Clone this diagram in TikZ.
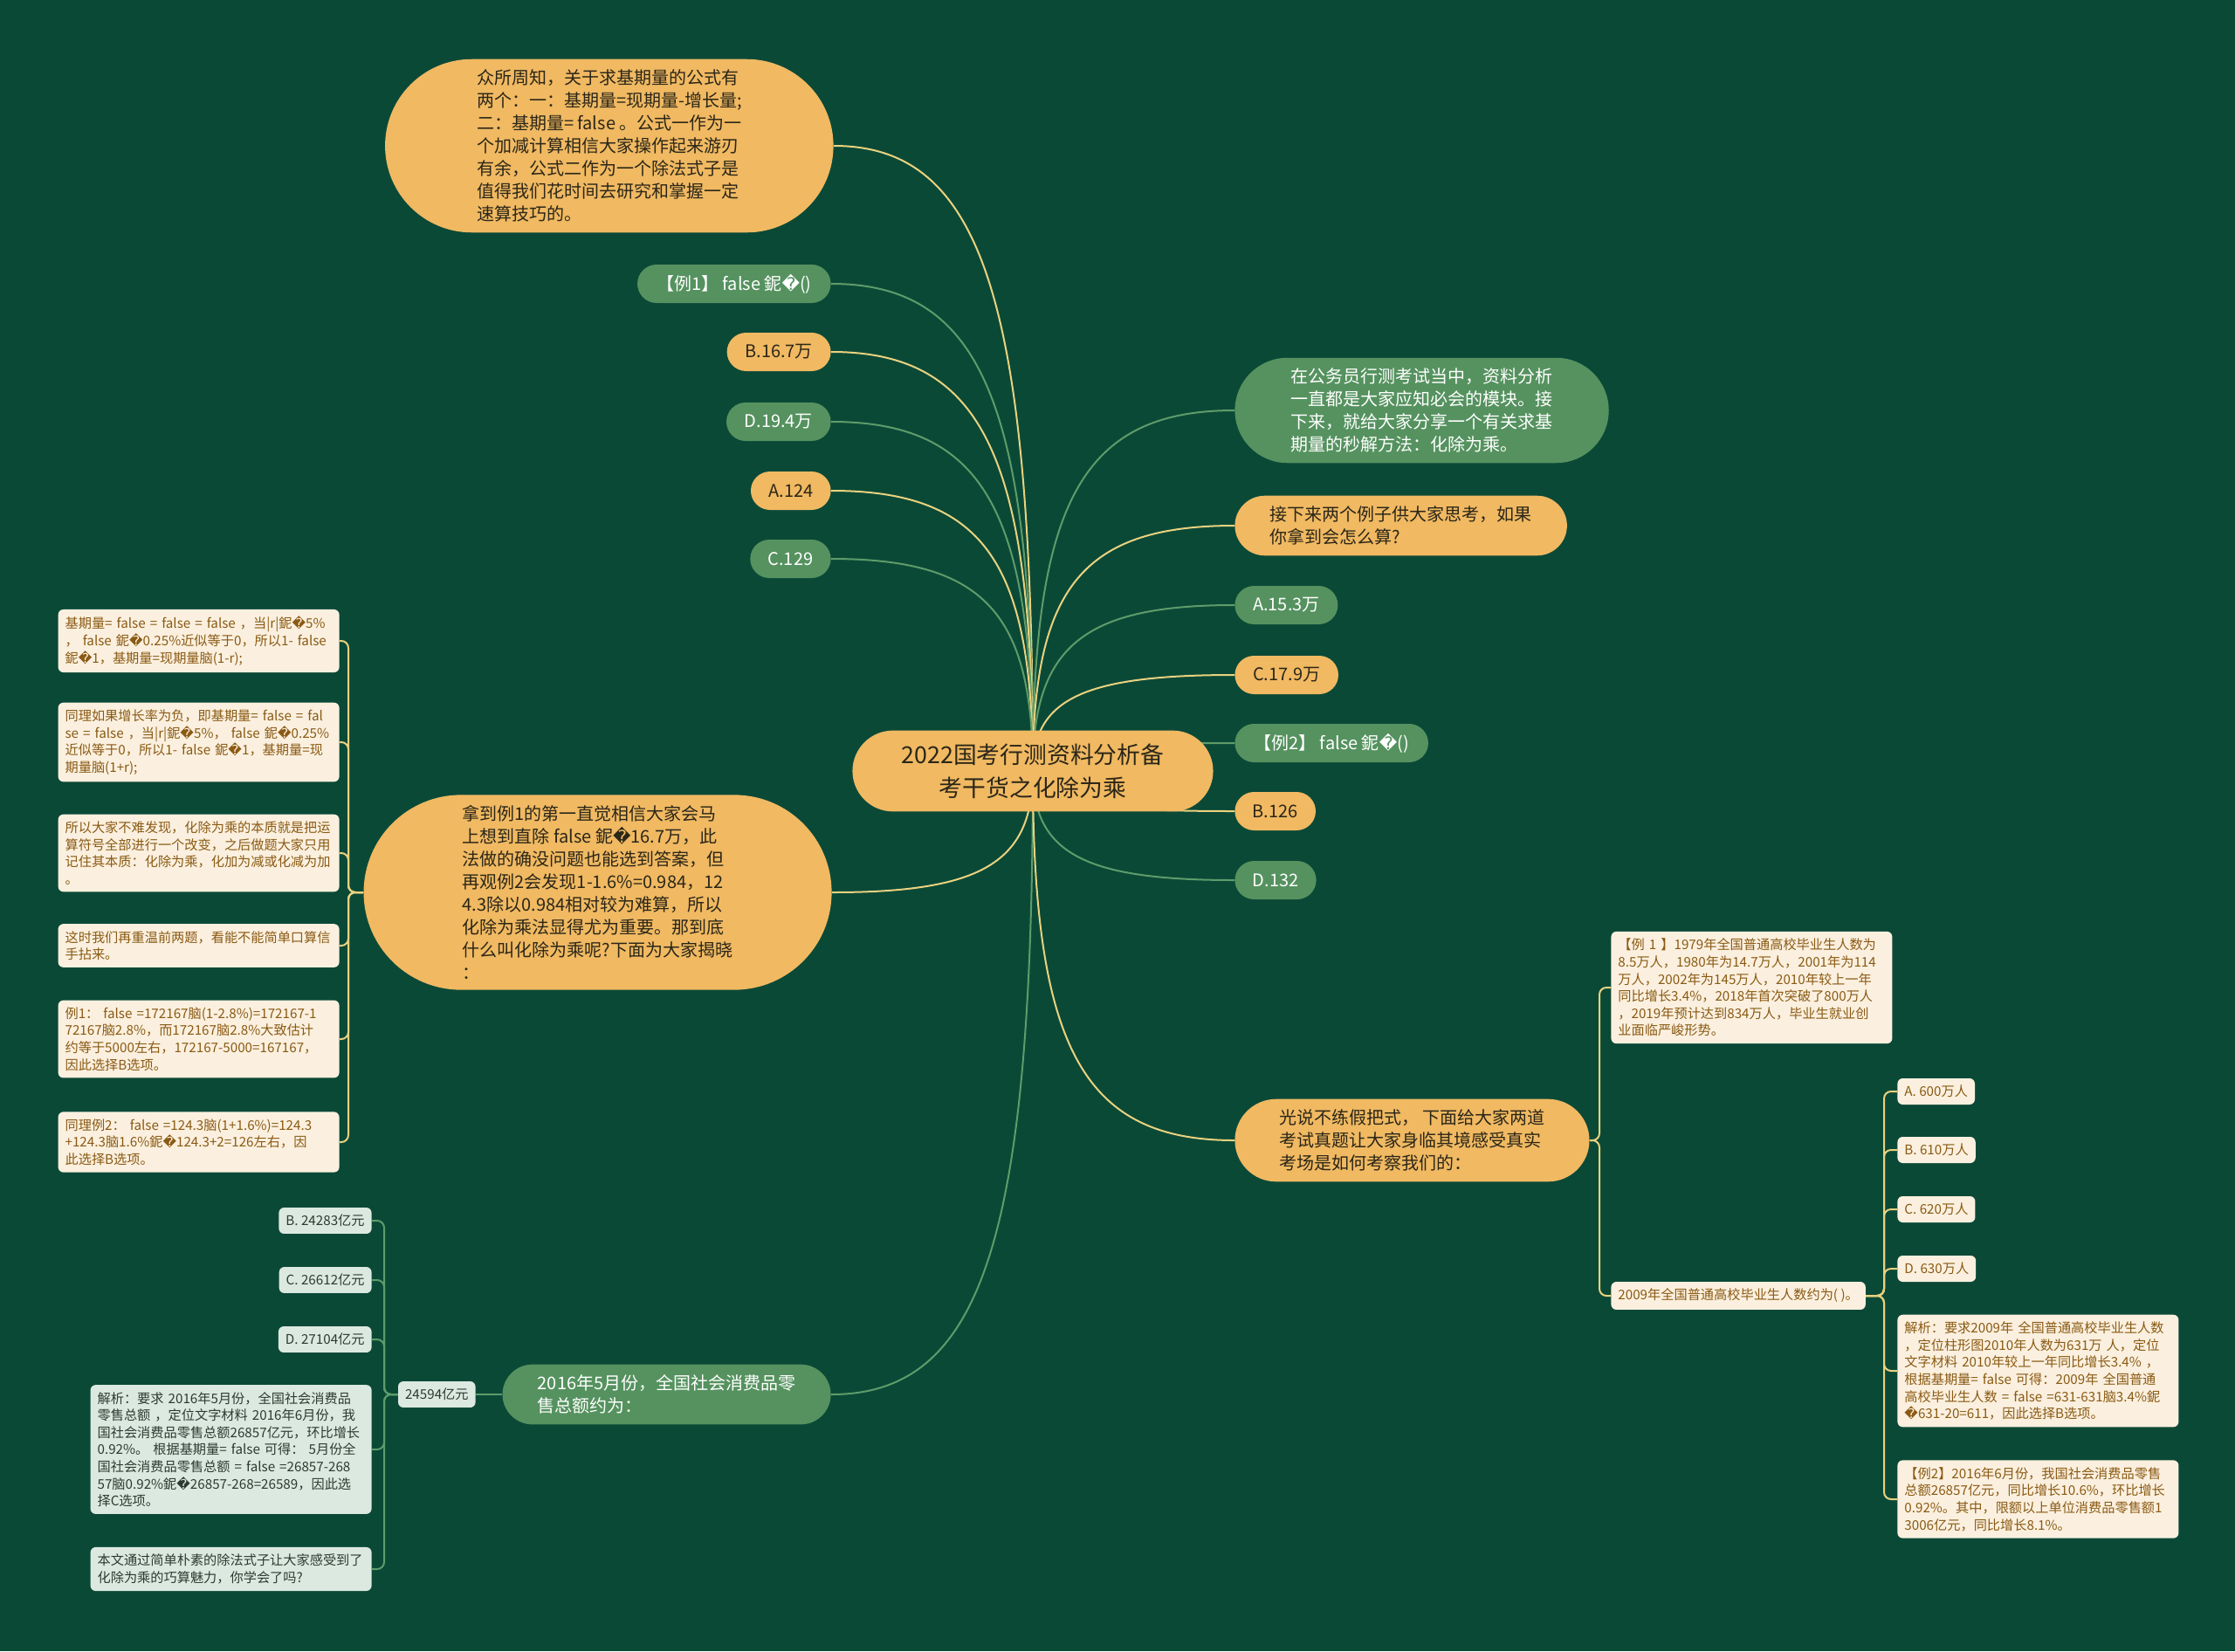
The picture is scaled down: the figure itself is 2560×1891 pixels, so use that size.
\documentclass[tikz,border=0pt]{standalone}
\usepackage{fontspec}
\setmainfont{Noto Sans CJK SC}
\newfontfamily\dejavu{DejaVu Sans}
\usetikzlibrary{shapes.misc,calc}
\definecolor{green900}{HTML}{0B4937}
\definecolor{green500}{HTML}{55925F}
\definecolor{green400}{HTML}{5E9C6B}
\definecolor{gold300}{HTML}{F0B962}
\definecolor{gold200}{HTML}{E9D27F}
\definecolor{cream100}{HTML}{FBF0DF}
\definecolor{brown700}{HTML}{8A5A14}
\definecolor{mint100}{HTML}{DCE9E0}
\definecolor{ink900}{HTML}{2B2618}
\definecolor{ink700}{HTML}{2C3B31}
\newcommand{\rpl}{{\dejavu\char"FFFD}}
\pgfdeclarelayer{bg}
\pgfsetlayers{bg,main}
\tikzset{
  root/.style ={rounded rectangle, fill=gold300, text=ink900, inner xsep=22pt,
                inner ysep=7.5pt, align=center, font=\fontsize{13.4}{19}\selectfont},
  bub/.style  ={rounded rectangle, fill=gold300, text=ink900, inner xsep=16pt,
                inner ysep=6pt, align=left, font=\fontsize{10}{13}\selectfont},
  bubg/.style ={bub, fill=green500, text=white},
  pill/.style ={rounded rectangle, fill=gold300, text=ink900, inner xsep=9.5pt,
                inner ysep=0pt, minimum height=22pt, font=\fontsize{10}{12}\selectfont},
  pillg/.style={pill, fill=green500, text=white},
  memo/.style ={fill=cream100, text=brown700, rounded corners=3pt, align=left,
                text width=153pt, inner xsep=4pt, inner ysep=4pt,
                font=\fontsize{7.6}{9.8}\selectfont},
  memom/.style={memo, fill=mint100, text=ink700},
  opt/.style  ={fill=cream100, text=brown700, rounded corners=3pt, inner xsep=4pt,
                inner ysep=4pt, font=\fontsize{7.6}{9.8}\selectfont},
  optm/.style ={opt, fill=mint100, text=ink700},
  lky/.style  ={draw=gold200, line width=1pt},
  lkg/.style  ={draw=green400, line width=1pt},
  elb/.style  ={rounded corners=4pt}
}
\begin{document}
\begin{tikzpicture}[x=0.5pt,y=-0.5pt]
\begin{pgfonlayer}{bg}
\fill[green900] (0,0) rectangle (2560,1891);
\end{pgfonlayer}
\useasboundingbox (0,0) rectangle (2560,1891);

% centre
\node[root] (root) at (1183,883) {2022国考行测资料分析备\\考干货之化除为乘};

% left of the centre
\node[bub, anchor=east, inner xsep=26.5pt] (intro) at (955,167)
  {众所周知，关于求基期量的公式有\\两个：一：基期量=现期量-增长量;\\
   二：基期量= false 。公式一作为一\\个加减计算相信大家操作起来游刃\\
   有余，公式二作为一个除法式子是\\值得我们花时间去研究和掌握一定\\速算技巧的。};
\node[pillg, anchor=east] (ex1) at (952,325) {【例1】 false 鈮\rpl()};
\node[pill,  anchor=east] (b167) at (952,403) {B.16.7万};
\node[pillg, anchor=east] (d194) at (952,483) {D.19.4万};
\node[pill,  anchor=east] (a124) at (952,562) {A.124};
\node[pillg, anchor=east] (c129) at (952,640) {C.129};
\node[bub, anchor=east, inner xsep=26pt] (idea) at (953,1022)
  {拿到例1的第一直觉相信大家会马\\上想到直除 false 鈮\rpl16.7万，此\\
   法做的确没问题也能选到答案，但\\再观例2会发现1-1.6\%=0.984，12\\
   4.3除以0.984相对较为难算，所以\\化除为乘法显得尤为重要。那到底\\
   什么叫化除为乘呢?下面为大家揭晓\\：};
\node[bubg, anchor=east] (sales) at (952,1597)
  {2016年5月份，全国社会消费品零\\售总额约为：};

% notes under "idea"
\node[memo, anchor=east] (m1) at (389,734)
  {基期量= false = false = false ，当|r|鈮\rpl5\%\\， false 鈮\rpl0.25\%近似等于0，所以1- false\\
   鈮\rpl1，基期量=现期量脑(1-r);};
\node[memo, anchor=east] (m2) at (389,850)
  {同理如果增长率为负，即基期量= false = fal\\se = false ，当|r|鈮\rpl5\%， false 鈮\rpl0.25\%\\
   近似等于0，所以1- false 鈮\rpl1，基期量=现\\期量脑(1+r);};
\node[memo, anchor=east] (m3) at (389,977)
  {所以大家不难发现，化除为乘的本质就是把运\\算符号全部进行一个改变，之后做题大家只用\\
   记住其本质：化除为乘，化加为减或化减为加\\。};
\node[memo, anchor=east] (m4) at (389,1083)
  {这时我们再重温前两题，看能不能简单口算信\\手拈来。};
\node[memo, anchor=east] (m5) at (389,1190)
  {例1： false =172167脑(1-2.8\%)=172167-1\\72167脑2.8\%，而172167脑2.8\%大致估计\\
   约等于5000左右，172167-5000=167167，\\因此选择B选项。};
\node[memo, anchor=east] (m6) at (389,1308)
  {同理例2： false =124.3脑(1+1.6\%)=124.3\\+124.3脑1.6\%鈮\rpl124.3+2=126左右，因\\此选择B选项。};

% answer of the sales question
\node[optm, anchor=east] (val) at (545,1597) {24594亿元};
\node[optm, anchor=east] (sb) at (426,1398) {B. 24283亿元};
\node[optm, anchor=east] (sc) at (426,1466) {C. 26612亿元};
\node[optm, anchor=east] (sd) at (426,1534) {D. 27104亿元};
\node[memom, anchor=east] (sj) at (426,1660)
  {解析：要求 2016年5月份，全国社会消费品\\零售总额 ，定位文字材料 2016年6月份，我\\
   国社会消费品零售总额26857亿元，环比增长\\0.92\%。 根据基期量= false 可得： 5月份全\\
   国社会消费品零售总额 = false =26857-268\\57脑0.92\%鈮\rpl26857-268=26589，因此选\\择C选项。};
\node[memom, anchor=east] (se) at (426,1797)
  {本文通过简单朴素的除法式子让大家感受到了\\化除为乘的巧算魅力，你学会了吗?};

% right of the centre
\node[bubg, anchor=west, inner xsep=20pt] (about) at (1414,470)
  {在公务员行测考试当中，资料分析\\一直都是大家应知必会的模块。接\\
   下来，就给大家分享一个有关求基\\期量的秒解方法：化除为乘。};
\node[bub, anchor=west] (think) at (1414,602)
  {接下来两个例子供大家思考，如果\\你拿到会怎么算?};
\node[pillg, anchor=west] (a153) at (1414,693) {A.15.3万};
\node[pill,  anchor=west] (c179) at (1414,773) {C.17.9万};
\node[pillg, anchor=west] (ex2) at (1414,851) {【例2】 false 鈮\rpl()};
\node[pill,  anchor=west] (b126) at (1414,929) {B.126};
\node[pillg, anchor=west] (d132) at (1414,1008) {D.132};
\node[bub, anchor=west, inner xsep=17.5pt] (real) at (1414,1306)
  {光说不练假把式， 下面给大家两道\\考试真题让大家身临其境感受真实\\考场是如何考察我们的：};

% exam questions
\node[memo, anchor=west] (ex1n) at (1845,1131)
  {【例 1 】1979年全国普通高校毕业生人数为\\8.5万人，1980年为14.7万人，2001年为114\\
   万人，2002年为145万人，2010年较上一年\\同比增长3.4\%，2018年首次突破了800万人\\
   ，2019年预计达到834万人，毕业生就业创\\业面临严峻形势。};
\node[opt, anchor=west] (q09) at (1845,1484) {2009年全国普通高校毕业生人数约为( )。};
\node[opt, anchor=west] (qa) at (2173,1250) {A. 600万人};
\node[opt, anchor=west] (qb) at (2173,1317) {B. 610万人};
\node[opt, anchor=west] (qc) at (2173,1385) {C. 620万人};
\node[opt, anchor=west] (qd) at (2173,1453) {D. 630万人};
\node[memo, anchor=west] (qj) at (2173,1570)
  {解析：要求2009年 全国普通高校毕业生人数\\，定位柱形图2010年人数为631万 人，定位\\
   文字材料 2010年较上一年同比增长3.4\% ，\\根据基期量= false 可得：2009年 全国普通\\
   高校毕业生人数 = false =631-631脑3.4\%鈮\\\rpl631-20=611，因此选择B选项。};
\node[memo, anchor=west] (ex2n) at (2173,1717)
  {【例2】2016年6月份，我国社会消费品零售\\总额26857亿元，同比增长10.6\%，环比增长\\
   0.92\%。其中，限额以上单位消费品零售额1\\3006亿元，同比增长8.1\%。};

\begin{pgfonlayer}{bg}
% branches leave the centre upright and end level
\foreach \n/\s in {intro/lky, ex1/lkg, b167/lky, d194/lkg, a124/lky, c129/lkg,
                   idea/lky, sales/lkg}
  \draw[\s] (root.center)
    .. controls ($(root.center)!0.75!(root.center |- \n.east)$)
            and ($(\n.east)!0.75!(root.center |- \n.east)$) .. (\n.east);
\foreach \n/\s in {about/lkg, think/lky, a153/lkg, c179/lky, ex2/lkg, b126/lky,
                   d132/lkg, real/lky}
  \draw[\s] (root.center)
    .. controls ($(root.center)!0.75!(root.center |- \n.west)$)
            and ($(\n.west)!0.75!(root.center |- \n.west)$) .. (\n.west);
\foreach \n in {m1,m2,m3,m4,m5,m6}
  \draw[lky, elb] (idea.west) -| ([xshift=5pt]\n.east) -- (\n.east);
\draw[lkg] (sales.west) -- (val.east);
\foreach \n in {sb,sc,sd,sj,se}
  \draw[lkg, elb] (val.west) -| ([xshift=7pt]\n.east) -- (\n.east);
\foreach \n in {ex1n,q09}
  \draw[lky, elb] (real.east) -| ([xshift=-6.5pt]\n.west) -- (\n.west);
\foreach \n in {qa,qb,qc,qd,qj,ex2n}
  \draw[lky, elb] (q09.east) -| ([xshift=-7.5pt]\n.west) -- (\n.west);
\end{pgfonlayer}
\end{tikzpicture}
\end{document}
